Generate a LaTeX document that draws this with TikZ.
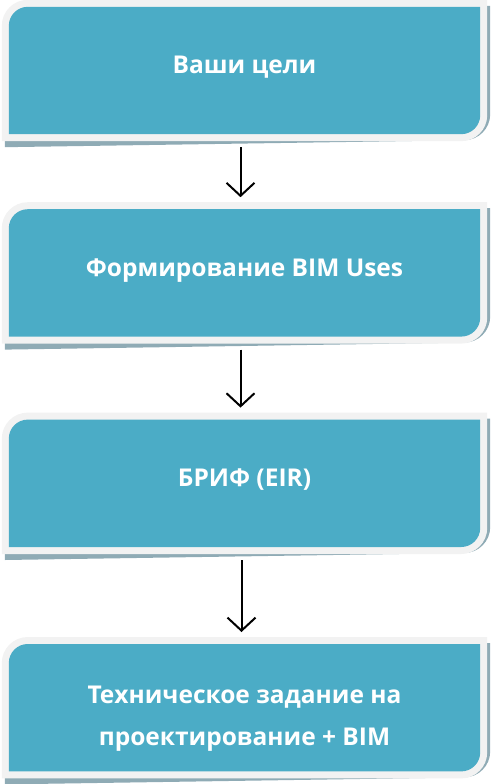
\documentclass[tikz,border=0pt]{standalone}
\usepackage{fontspec}
\setmainfont{Open Sans}
\usetikzlibrary{arrows.meta,positioning,calc,backgrounds}
\definecolor{boxfill}{HTML}{4BACC6}
\definecolor{boxrim}{HTML}{F2F2F2}
\definecolor{boxshade}{HTML}{8FABB5}
\tikzset{step node/.style={rectangle,minimum width=471pt,minimum height=127pt,inner sep=0pt,text=white,align=center,font=\fontsize{24.5}{42}\selectfont\bfseries},flow/.style={line width=2pt,-{Straight Barb[length=13pt,width=28pt]},shorten <=13pt,shorten >=12pt}}

\begin{document}
\begin{tikzpicture}[x=1pt,y=1pt]
    \useasboundingbox (0,0) rectangle (490,-784);
    \node[step node] (goals) at (244.5,-70.5) {Ваши цели\rule[-12pt]{0pt}{0pt}};
    \node[step node] (uses) [below=75pt of goals] {Формирование BIM Uses\rule[-10pt]{0pt}{0pt}};
    \node[step node] (brief) [below=83pt of uses] {БРИФ (EIR)\rule[-12pt]{0pt}{0pt}};
    \node[step node] (spec) [below=97pt of brief] {\rule{0pt}{40pt}Техническое задание на\\проектирование + BIM};
    \begin{scope}[on background layer]
    \foreach \n in {goals,uses,brief,spec}{
        \fill[boxshade] ($(\n.north west)+(-4,-25)$) arc[start angle=180,end angle=90,radius=26] -- ($(\n.north east)+(10,1)$) -- ($(\n.south east)+(10,20)$) arc[start angle=0,end angle=-90,radius=26] -- ($(\n.south west)+(-4,-13)$) -- cycle;
        \fill[boxrim] ($(\n.north west)+(-7,-19)$) arc[start angle=180,end angle=90,radius=26] -- ($(\n.north east)+(7,7)$) -- ($(\n.south east)+(7,19)$) arc[start angle=0,end angle=-90,radius=26] -- ($(\n.south west)+(-7,-7)$) -- cycle;
        \fill[boxfill] ($(\n.north west)+(0,-19)$) arc[start angle=180,end angle=90,radius=19] -- (\n.north east) -- ($(\n.south east)+(0,19)$) arc[start angle=0,end angle=-90,radius=19] -- (\n.south west) -- cycle;
    }
    \end{scope}
    \draw[flow] ([xshift=-4pt]goals.south) -- ([xshift=-4pt]uses.north);
    \draw[flow] ([xshift=-4pt]uses.south) -- ([xshift=-4pt]brief.north);
    \draw[flow] ([xshift=-3pt]brief.south) -- ([xshift=-3pt]spec.north);
\end{tikzpicture}
\end{document}
